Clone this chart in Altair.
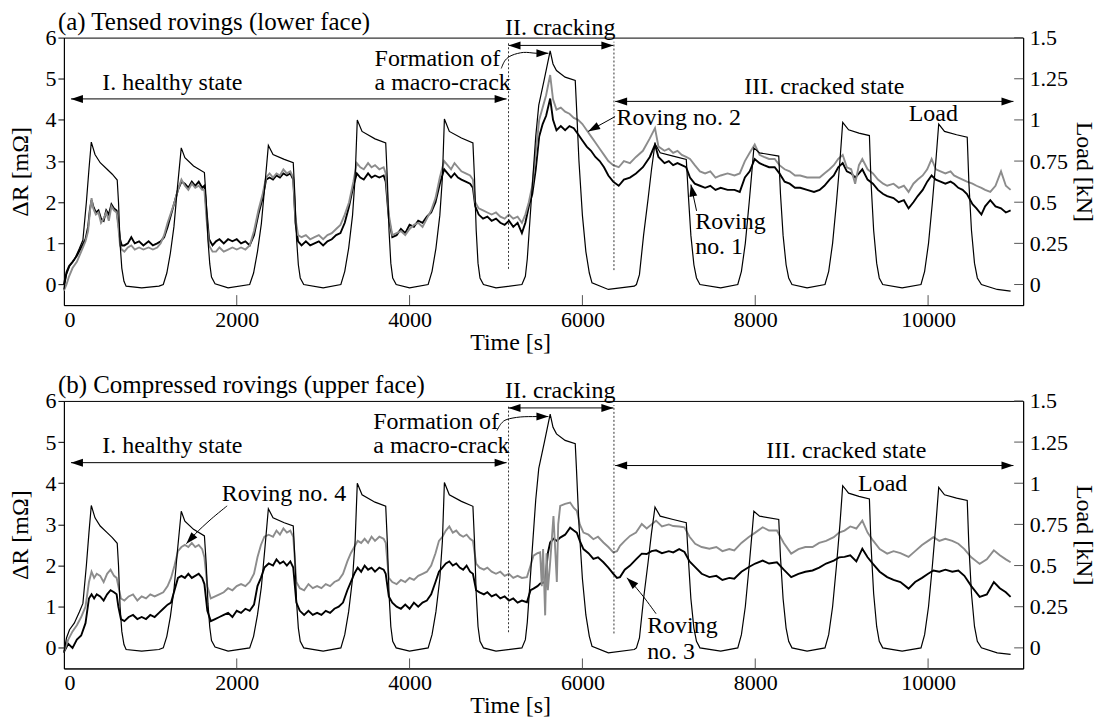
import altair as alt
import pandas as pd

FONT = "Liberation Serif"
GRAY = "#8c8c8c"

# ---------------- data ----------------
# applied load [kN] (same loading history in both panels)
LOAD = [
    (0, -0.03), (30, 0.06), (65, 0.11), (120, 0.15), (180, 0.22), (220, 0.27), (260, 0.5), (290, 0.7),
    (317, 0.865), (360, 0.79), (420, 0.74), (500, 0.70), (560, 0.67), (617, 0.635), (632, 0.5),
    (650, 0.25), (670, 0.1), (695, 0.02), (720, -0.01), (900, -0.02), (1100, -0.01), (1150, 0.0),
    (1191, 0.07), (1232, 0.19), (1273, 0.35), (1314, 0.59), (1358, 0.83), (1400, 0.77), (1500, 0.72),
    (1626, 0.68), (1647, 0.51), (1667, 0.27), (1688, 0.125), (1708, 0.045), (1749, 0.005),
    (1900, -0.02), (2150, 0.0), (2195, 0.07), (2240, 0.2), (2285, 0.37), (2325, 0.6), (2366, 0.845),
    (2420, 0.79), (2550, 0.76), (2654, 0.74), (2672, 0.55), (2692, 0.28), (2713, 0.12), (2735, 0.04),
    (2775, 0.0), (3000, -0.02), (3205, 0.0), (3250, 0.08), (3295, 0.22), (3340, 0.42), (3370, 0.65),
    (3395, 1.0), (3450, 0.93), (3600, 0.885), (3724, 0.86), (3742, 0.65), (3762, 0.33), (3783, 0.13),
    (3805, 0.04), (3845, 0.0), (4000, -0.02), (4215, 0.0), (4260, 0.08), (4305, 0.22), (4350, 0.42),
    (4380, 0.65), (4403, 1.005), (4460, 0.93), (4600, 0.89), (4733, 0.86), (4751, 0.65), (4771, 0.33),
    (4792, 0.13), (4815, 0.04), (4855, 0.0), (5000, -0.02), (5300, 0.0), (5340, 0.05), (5362, 0.155),
    (5420, 0.6), (5460, 0.9), (5495, 1.09), (5560, 1.25), (5627, 1.42), (5660, 1.34), (5700, 1.3),
    (5800, 1.26), (5917, 1.24), (5930, 1.1), (5960, 0.75), (6000, 0.42), (6040, 0.2), (6080, 0.07),
    (6111, 0.01), (6300, -0.03), (6600, -0.01), (6625, 0.0), (6660, 0.06), (6708, 0.3), (6760, 0.52),
    (6800, 0.7), (6840, 0.855), (6900, 0.8), (7050, 0.78), (7202, 0.76), (7225, 0.55), (7255, 0.3),
    (7290, 0.12), (7320, 0.04), (7360, 0.0), (7600, -0.02), (7798, 0.0), (7840, 0.08), (7885, 0.25),
    (7930, 0.5), (7960, 0.68), (7984, 0.83), (8050, 0.8), (8272, 0.78), (8292, 0.55), (8322, 0.3),
    (8357, 0.12), (8387, 0.04), (8425, 0.0), (8600, -0.02), (8807, 0.0), (8850, 0.08), (8895, 0.25),
    (8940, 0.5), (8980, 0.75), (9012, 0.985), (9080, 0.94), (9200, 0.92), (9321, 0.905), (9340, 0.62),
    (9370, 0.33), (9405, 0.13), (9435, 0.04), (9475, 0.0), (9700, -0.02), (9918, 0.0), (9960, 0.08),
    (10005, 0.25), (10050, 0.5), (10090, 0.75), (10123, 0.975), (10190, 0.93), (10330, 0.91),
    (10453, 0.895), (10472, 0.62), (10502, 0.33), (10537, 0.13), (10570, 0.04), (10617, 0.0),
    (10800, -0.03), (10955, -0.04),
]

# (a) tensed rovings, Delta R [mOhm]
ROVING_1 = [
    (0, 0.0), (30, 0.3), (60, 0.45), (100, 0.55), (150, 0.7), (200, 0.9), (250, 1.1), (280, 1.4),
    (300, 1.8), (320, 2.05), (340, 1.9), (370, 1.75), (400, 1.8), (430, 1.6), (460, 1.55), (490, 1.8),
    (520, 1.7), (550, 1.95), (580, 1.85), (610, 1.8), (630, 1.5), (650, 1.1), (670, 0.95), (700, 0.95),
    (740, 1.0), (780, 1.15), (820, 1.0), (870, 1.05), (920, 0.95), (980, 1.05), (1030, 0.95),
    (1080, 1.0), (1120, 1.05), (1160, 1.15), (1200, 1.4), (1240, 1.7), (1280, 2.0), (1320, 2.3),
    (1360, 2.5), (1400, 2.45), (1440, 2.35), (1480, 2.5), (1520, 2.4), (1560, 2.5), (1600, 2.35),
    (1626, 2.4), (1650, 1.8), (1680, 1.1), (1720, 0.95), (1760, 1.05), (1800, 1.1), (1850, 1.0),
    (1900, 1.1), (1950, 1.05), (2000, 1.1), (2050, 1.0), (2100, 1.05), (2150, 0.95), (2200, 1.2),
    (2250, 1.7), (2300, 2.1), (2340, 2.55), (2380, 2.6), (2420, 2.55), (2460, 2.65), (2500, 2.6),
    (2540, 2.7), (2580, 2.65), (2620, 2.7), (2654, 2.55), (2680, 1.5), (2710, 1.05), (2750, 0.95),
    (2800, 1.05), (2850, 0.95), (2900, 1.0), (2950, 1.05), (3000, 0.95), (3050, 1.05), (3100, 1.1),
    (3150, 1.2), (3200, 1.25), (3250, 1.5), (3300, 1.9), (3350, 2.4), (3390, 2.7), (3430, 2.6),
    (3470, 2.55), (3520, 2.7), (3560, 2.6), (3600, 2.65), (3650, 2.6), (3700, 2.65), (3724, 2.5),
    (3760, 1.6), (3800, 1.15), (3850, 1.2), (3900, 1.35), (3950, 1.25), (4000, 1.45), (4050, 1.4),
    (4100, 1.55), (4150, 1.5), (4200, 1.65), (4250, 1.75), (4300, 2.0), (4350, 2.45), (4400, 2.8),
    (4440, 2.7), (4480, 2.6), (4520, 2.7), (4560, 2.6), (4600, 2.55), (4650, 2.5), (4700, 2.45),
    (4733, 2.35), (4760, 1.9), (4800, 1.7), (4850, 1.6), (4900, 1.65), (4950, 1.55), (5000, 1.6),
    (5050, 1.5), (5100, 1.45), (5150, 1.55), (5200, 1.4), (5250, 1.5), (5300, 1.25), (5340, 1.5),
    (5380, 1.9), (5420, 2.2), (5460, 2.8), (5500, 3.6), (5540, 3.9), (5580, 4.1), (5627, 4.52),
    (5660, 4.0), (5700, 3.75), (5750, 3.85), (5800, 3.75), (5850, 3.85), (5900, 3.8), (5950, 3.65),
    (6000, 3.5), (6050, 3.35), (6100, 3.25), (6150, 3.1), (6200, 3.0), (6250, 2.85), (6300, 2.65),
    (6356, 2.5), (6420, 2.4), (6480, 2.55), (6550, 2.6), (6620, 2.7), (6700, 2.85), (6780, 3.1),
    (6840, 3.4), (6880, 3.1), (6950, 2.95), (7000, 3.0), (7050, 2.9), (7100, 2.95), (7150, 2.9),
    (7200, 2.85), (7245, 2.6), (7300, 2.45), (7360, 2.4), (7420, 2.35), (7480, 2.4), (7540, 2.3),
    (7600, 2.35), (7680, 2.3), (7760, 2.3), (7821, 2.25), (7880, 2.6), (7936, 2.75), (7994, 3.05),
    (8050, 2.95), (8100, 2.9), (8160, 2.85), (8225, 2.85), (8280, 2.7), (8340, 2.5), (8398, 2.45),
    (8460, 2.35), (8520, 2.35), (8600, 2.3), (8680, 2.25), (8745, 2.3), (8800, 2.4), (8860, 2.55),
    (8909, 2.65), (8960, 2.85), (9012, 2.95), (9060, 2.75), (9110, 2.7), (9156, 2.6), (9200, 2.7),
    (9239, 2.8), (9300, 2.55), (9362, 2.45), (9420, 2.3), (9480, 2.2), (9527, 2.15), (9600, 2.1),
    (9660, 2.0), (9720, 2.05), (9774, 1.85), (9830, 2.0), (9880, 2.15), (9938, 2.3), (9990, 2.5),
    (10041, 2.65), (10090, 2.55), (10144, 2.5), (10200, 2.45), (10260, 2.5), (10300, 2.45),
    (10350, 2.35), (10400, 2.3), (10450, 2.2), (10514, 1.95), (10560, 1.85), (10617, 1.7),
    (10660, 1.9), (10720, 2.05), (10780, 1.9), (10844, 1.85), (10900, 1.75), (10955, 1.8),
]
ROVING_2 = [
    (0, -0.15), (30, 0.0), (60, 0.2), (100, 0.4), (150, 0.55), (200, 0.8), (250, 1.05), (280, 1.3),
    (300, 1.75), (320, 2.1), (340, 1.85), (370, 1.7), (400, 1.75), (430, 1.5), (460, 1.6), (490, 1.75),
    (520, 1.55), (550, 1.9), (580, 1.8), (610, 1.75), (630, 1.4), (650, 0.95), (670, 0.85), (700, 0.8),
    (740, 0.9), (780, 0.95), (820, 0.85), (870, 0.9), (920, 0.85), (980, 0.9), (1030, 0.85),
    (1080, 0.9), (1120, 1.0), (1160, 1.2), (1200, 1.5), (1240, 1.75), (1280, 2.0), (1320, 2.3),
    (1360, 2.55), (1400, 2.4), (1440, 2.3), (1480, 2.45), (1520, 2.35), (1560, 2.4), (1600, 2.3),
    (1626, 2.3), (1650, 1.6), (1680, 0.95), (1720, 0.8), (1760, 0.8), (1800, 0.9), (1850, 0.8),
    (1900, 0.85), (1950, 0.9), (2000, 0.85), (2050, 0.9), (2100, 0.85), (2150, 0.95), (2200, 1.3),
    (2250, 1.8), (2300, 2.2), (2340, 2.6), (2380, 2.7), (2420, 2.6), (2460, 2.7), (2500, 2.65),
    (2540, 2.8), (2580, 2.7), (2620, 2.75), (2654, 2.6), (2680, 1.6), (2710, 1.2), (2750, 1.15),
    (2800, 1.2), (2850, 1.1), (2900, 1.15), (2950, 1.2), (3000, 1.1), (3050, 1.2), (3100, 1.25),
    (3150, 1.35), (3200, 1.45), (3250, 1.7), (3300, 2.0), (3350, 2.5), (3390, 2.95), (3430, 2.85),
    (3470, 2.8), (3520, 2.95), (3560, 2.85), (3600, 2.9), (3650, 2.8), (3700, 2.85), (3724, 2.7),
    (3760, 1.7), (3800, 1.2), (3850, 1.25), (3900, 1.3), (3950, 1.2), (4000, 1.35), (4050, 1.45),
    (4100, 1.5), (4150, 1.4), (4200, 1.6), (4250, 1.8), (4300, 2.1), (4350, 2.6), (4400, 3.0),
    (4440, 2.9), (4480, 2.8), (4520, 2.95), (4560, 2.85), (4600, 2.75), (4650, 2.7), (4700, 2.65),
    (4733, 2.55), (4760, 2.0), (4800, 1.85), (4850, 1.8), (4900, 1.75), (4950, 1.7), (5000, 1.75),
    (5050, 1.65), (5100, 1.6), (5150, 1.7), (5200, 1.6), (5250, 1.65), (5300, 1.5), (5340, 1.7),
    (5380, 2.0), (5420, 2.4), (5460, 3.2), (5500, 4.0), (5540, 4.3), (5580, 4.6), (5627, 5.09),
    (5660, 4.5), (5700, 4.25), (5750, 4.3), (5800, 4.2), (5850, 4.15), (5900, 4.05), (5950, 4.0),
    (6000, 3.9), (6050, 3.75), (6100, 3.6), (6150, 3.45), (6200, 3.3), (6250, 3.15), (6300, 3.0),
    (6356, 2.9), (6420, 2.85), (6480, 3.0), (6550, 2.95), (6620, 3.1), (6700, 3.25), (6780, 3.55),
    (6840, 3.8), (6880, 3.35), (6950, 3.25), (7000, 3.3), (7050, 3.2), (7100, 3.25), (7150, 3.15),
    (7200, 3.1), (7245, 3.05), (7300, 2.9), (7360, 2.75), (7420, 2.7), (7480, 2.75), (7540, 2.6),
    (7600, 2.65), (7680, 2.7), (7760, 2.65), (7821, 2.7), (7880, 3.0), (7936, 3.2), (7994, 3.4),
    (8050, 3.15), (8100, 3.1), (8160, 3.05), (8225, 3.05), (8280, 2.9), (8340, 2.8), (8398, 2.75),
    (8460, 2.65), (8520, 2.65), (8600, 2.6), (8680, 2.6), (8745, 2.6), (8800, 2.7), (8860, 2.8),
    (8909, 2.9), (8960, 3.05), (9012, 3.15), (9060, 2.85), (9110, 2.8), (9156, 2.45), (9200, 2.9),
    (9239, 3.05), (9300, 2.8), (9362, 2.7), (9420, 2.55), (9480, 2.45), (9527, 2.4), (9600, 2.45),
    (9660, 2.35), (9720, 2.4), (9774, 2.25), (9830, 2.45), (9880, 2.55), (9938, 2.65), (9990, 2.8),
    (10041, 3.05), (10090, 2.8), (10144, 2.75), (10200, 2.7), (10260, 2.75), (10300, 2.65),
    (10350, 2.6), (10400, 2.55), (10450, 2.5), (10514, 2.45), (10560, 2.4), (10617, 2.35),
    (10660, 2.3), (10720, 2.25), (10780, 2.4), (10844, 2.75), (10900, 2.4), (10955, 2.3),
]

# (b) compressed rovings, Delta R [mOhm]
ROVING_3 = [
    (0, -0.1), (50, 0.1), (100, 0.0), (150, 0.2), (200, 0.3), (250, 0.6), (290, 1.2), (320, 1.3),
    (350, 1.2), (380, 1.3), (420, 1.25), (460, 1.15), (500, 1.3), (540, 1.4), (580, 1.35), (610, 1.3),
    (630, 1.0), (660, 0.7), (700, 0.65), (750, 0.75), (800, 0.8), (850, 0.7), (900, 0.75), (950, 0.7),
    (1000, 0.8), (1050, 0.75), (1100, 0.85), (1150, 0.95), (1200, 1.05), (1240, 1.1), (1280, 1.4),
    (1320, 1.7), (1360, 1.75), (1400, 1.7), (1440, 1.8), (1480, 1.7), (1520, 1.75), (1560, 1.8),
    (1600, 1.7), (1626, 1.55), (1660, 0.9), (1700, 0.65), (1750, 0.7), (1800, 0.75), (1850, 0.8),
    (1900, 0.85), (1950, 0.75), (2000, 0.9), (2050, 0.85), (2100, 0.95), (2150, 0.9), (2200, 1.05),
    (2240, 1.5), (2280, 1.7), (2320, 1.95), (2370, 2.05), (2420, 2.0), (2460, 2.15), (2500, 2.05),
    (2540, 2.1), (2580, 2.0), (2620, 2.1), (2654, 1.95), (2690, 1.1), (2730, 0.9), (2780, 0.8),
    (2830, 0.9), (2880, 0.8), (2930, 0.85), (2980, 0.8), (3030, 0.9), (3080, 0.85), (3130, 0.95),
    (3180, 1.0), (3230, 1.1), (3280, 1.4), (3320, 1.6), (3360, 1.8), (3400, 1.95), (3440, 1.85),
    (3480, 2.0), (3520, 1.9), (3560, 1.95), (3600, 1.85), (3650, 1.95), (3700, 1.9), (3724, 1.8),
    (3760, 1.25), (3800, 1.1), (3850, 1.0), (3900, 0.95), (3950, 1.05), (4000, 0.95), (4050, 1.1),
    (4100, 1.0), (4150, 1.1), (4200, 1.15), (4250, 1.3), (4300, 1.6), (4340, 1.85), (4380, 1.95),
    (4420, 2.05), (4460, 2.1), (4500, 2.0), (4540, 2.05), (4580, 1.95), (4620, 1.9), (4660, 2.0),
    (4700, 1.85), (4733, 1.8), (4770, 1.4), (4810, 1.35), (4860, 1.3), (4900, 1.35), (4950, 1.25),
    (5000, 1.3), (5050, 1.2), (5100, 1.25), (5150, 1.15), (5200, 1.2), (5250, 1.1), (5300, 1.15),
    (5358, 1.11), (5400, 1.4), (5434, 1.44), (5480, 1.5), (5511, 1.56), (5569, 1.6), (5600, 2.3),
    (5627, 2.56), (5665, 2.65), (5704, 2.6), (5743, 2.68), (5800, 2.75), (5858, 2.92), (5900, 2.85),
    (5935, 2.8), (5970, 2.6), (6012, 2.4), (6070, 2.3), (6127, 2.16), (6180, 2.2), (6243, 2.08),
    (6300, 1.95), (6358, 1.8), (6400, 1.7), (6435, 1.72), (6490, 1.9), (6551, 2.0), (6620, 2.15),
    (6687, 2.29), (6744, 2.28), (6800, 2.35), (6852, 2.37), (6920, 2.3), (7000, 2.35), (7051, 2.32),
    (7120, 2.4), (7181, 2.33), (7240, 2.1), (7305, 1.96), (7380, 1.8), (7469, 1.72), (7550, 1.75),
    (7620, 1.65), (7700, 1.7), (7757, 1.68), (7840, 1.85), (7922, 1.96), (8000, 2.05), (8086, 2.12),
    (8160, 2.05), (8251, 2.08), (8330, 1.9), (8416, 1.72), (8500, 1.8), (8580, 1.85), (8663, 1.88),
    (8740, 1.95), (8820, 2.05), (8909, 2.12), (8970, 2.2), (9033, 2.21), (9100, 2.25), (9170, 2.1),
    (9239, 2.41), (9300, 2.2), (9362, 2.04), (9440, 1.85), (9527, 1.72), (9600, 1.65), (9680, 1.6),
    (9774, 1.44), (9850, 1.6), (9930, 1.7), (10000, 1.8), (10062, 1.88), (10130, 1.85), (10200, 1.9),
    (10280, 1.85), (10350, 1.88), (10420, 1.75), (10500, 1.5), (10597, 1.24), (10680, 1.3),
    (10761, 1.6), (10830, 1.45), (10900, 1.35), (10955, 1.24),
]
ROVING_4 = [
    (0, -0.1), (50, 0.2), (100, 0.4), (150, 0.55), (200, 0.75), (250, 1.0), (290, 1.6), (320, 1.85),
    (350, 1.7), (380, 1.8), (420, 1.75), (460, 1.6), (500, 1.8), (540, 1.9), (580, 1.75), (610, 1.7),
    (630, 1.5), (660, 1.2), (700, 1.15), (750, 1.25), (800, 1.3), (850, 1.15), (900, 1.25), (950, 1.2),
    (1000, 1.3), (1050, 1.25), (1100, 1.3), (1150, 1.35), (1200, 1.5), (1240, 1.7), (1280, 2.0),
    (1320, 2.35), (1360, 2.45), (1400, 2.5), (1440, 2.45), (1480, 2.55), (1520, 2.45), (1560, 2.5),
    (1600, 2.4), (1626, 2.2), (1660, 1.5), (1700, 1.2), (1750, 1.25), (1800, 1.3), (1850, 1.35),
    (1900, 1.45), (1950, 1.4), (2000, 1.5), (2050, 1.55), (2100, 1.5), (2150, 1.6), (2200, 1.8),
    (2240, 2.2), (2280, 2.5), (2320, 2.7), (2370, 2.75), (2420, 2.7), (2460, 2.85), (2500, 2.75),
    (2540, 2.9), (2580, 2.8), (2620, 2.85), (2654, 2.7), (2690, 1.6), (2730, 1.45), (2780, 1.4),
    (2830, 1.55), (2880, 1.45), (2930, 1.5), (2980, 1.45), (3030, 1.55), (3080, 1.5), (3130, 1.6),
    (3180, 1.65), (3230, 1.8), (3280, 2.1), (3320, 2.3), (3360, 2.45), (3400, 2.6), (3440, 2.55),
    (3480, 2.65), (3520, 2.55), (3560, 2.7), (3600, 2.6), (3650, 2.7), (3700, 2.65), (3724, 2.55),
    (3760, 1.7), (3800, 1.6), (3850, 1.55), (3900, 1.65), (3950, 1.6), (4000, 1.7), (4050, 1.65),
    (4100, 1.75), (4150, 1.8), (4200, 1.85), (4250, 2.0), (4300, 2.3), (4340, 2.6), (4380, 2.7),
    (4420, 2.85), (4460, 2.95), (4500, 2.8), (4540, 2.85), (4580, 2.75), (4620, 2.7), (4660, 2.75),
    (4700, 2.65), (4733, 2.6), (4770, 2.05), (4810, 1.95), (4860, 1.9), (4900, 1.95), (4950, 1.85),
    (5000, 1.8), (5050, 1.85), (5100, 1.75), (5150, 1.8), (5200, 1.7), (5250, 1.75), (5300, 1.7),
    (5358, 1.72), (5400, 2.0), (5434, 2.24), (5480, 2.3), (5511, 2.32), (5530, 1.5), (5545, 2.4),
    (5569, 0.79), (5585, 2.3), (5600, 1.4), (5627, 2.08), (5665, 3.2), (5685, 2.4), (5704, 1.6),
    (5720, 3.0), (5743, 3.45), (5800, 3.5), (5858, 3.53), (5900, 3.4), (5935, 3.33), (5970, 3.0),
    (6012, 2.8), (6070, 2.75), (6127, 2.64), (6180, 2.7), (6243, 2.56), (6300, 2.45), (6358, 2.32),
    (6400, 2.35), (6435, 2.48), (6490, 2.6), (6551, 2.72), (6620, 2.8), (6687, 3.01), (6744, 2.9),
    (6800, 3.0), (6852, 3.09), (6920, 2.95), (7000, 3.0), (7051, 2.96), (7120, 2.95), (7181, 2.93),
    (7240, 2.7), (7305, 2.53), (7380, 2.45), (7469, 2.41), (7550, 2.45), (7620, 2.35), (7700, 2.4),
    (7757, 2.37), (7840, 2.55), (7922, 2.69), (8000, 2.8), (8086, 2.93), (8160, 2.85), (8251, 2.85),
    (8330, 2.55), (8416, 2.29), (8500, 2.4), (8580, 2.45), (8663, 2.45), (8740, 2.55), (8820, 2.6),
    (8909, 2.69), (8970, 2.8), (9033, 2.85), (9100, 2.95), (9170, 2.9), (9239, 3.09), (9300, 2.8),
    (9362, 2.61), (9440, 2.4), (9527, 2.29), (9600, 2.35), (9680, 2.3), (9774, 2.21), (9850, 2.35),
    (9930, 2.5), (10000, 2.6), (10062, 2.69), (10130, 2.6), (10200, 2.65), (10280, 2.6),
    (10350, 2.53), (10420, 2.4), (10500, 2.2), (10597, 2.04), (10680, 2.15), (10761, 2.37),
    (10830, 2.25), (10900, 2.15), (10955, 2.08),
]

# axis ticks
TIME_TICKS = [0, 2000, 4000, 6000, 8000, 10000]
DR_TICKS = [0, 1, 2, 3, 4, 5, 6]
LOAD_TICKS = [0, 0.25, 0.5, 0.75, 1, 1.25, 1.5]

# annotations: (text, t, dR) in data units
TEXT_CENTER_A = [("II. cracking", 5743, 6.06), ("I. healthy state", 1255, 4.73),
                 ("III. cracked state", 8800, 4.63), ("Load", 10060, 3.97)]
TEXT_LEFT_A = [("Formation of", 3595, 5.31), ("a macro-crack", 3595, 4.73),
               ("Roving no. 2", 6395, 3.87), ("Roving", 7305, 1.34), ("no. 1", 7305, 0.73)]
TEXT_CENTER_B = [("II. cracking", 5743, 6.06), ("I. healthy state", 1255, 4.73),
                 ("III. cracked state", 9053, 4.61), ("Load", 9475, 3.8)]
TEXT_LEFT_B = [("Formation of", 3580, 5.31), ("a macro-crack", 3580, 4.73),
               ("Roving no. 4", 1827, 3.57), ("Roving", 6749, 0.35), ("no. 3", 6749, -0.26)]

# double arrows: (t start, t end, dR)
HARROWS_A = [(82, 5123, 4.51), (5145, 6358, 5.81), (6379, 10988, 4.45)]
HARROWS_B = [(82, 5123, 4.50), (5145, 6358, 5.83), (6379, 10988, 4.43)]
# dotted phase limits: (t, dR low, dR high)
VLINES = [(5145, 0.38, 5.9), (6365, 0.35, 5.9)]
# pointer arrows: name -> list of (t, dR); the last point is the tip
POINTERS_A = {
    "formation": [(5061, 5.25), (5107, 5.45), (5185, 5.57), (5319, 5.64), (5465, 5.62), (5607, 5.62)],
    "r2": [(6378, 4.08), (6066, 3.72)],
    "r1": [(7321, 1.79), (7255, 2.43)],
}
POINTERS_B = {
    "formation": [(5011, 5.28), (5060, 5.45), (5127, 5.55), (5281, 5.61), (5465, 5.62), (5607, 5.62)],
    "r4": [(1889, 3.45), (1704, 3.13), (1520, 2.77), (1417, 2.53)],
    "r3": [(6852, 0.83), (6708, 1.24), (6564, 1.6), (6514, 1.7)],
}
# arrow-head direction (degrees, clockwise, 0 = pointing right)
HEAD_ANGLE_A = {"formation": 0, "r2": 151, "r1": 258}
HEAD_ANGLE_B = {"formation": 0, "r4": 132, "r3": 224}

# ---------------- chart ----------------
W, H = 961, 268
X_SCALE = alt.Scale(domain=[0, 11100], nice=False, zero=False)
Y_SCALE = alt.Scale(domain=[-0.5, 6], nice=False, zero=False)
L_SCALE = alt.Scale(domain=[-0.125, 1.5], nice=False, zero=False)
HEAD_PATH = "M0,0L-2.4,-0.8L-2.4,0.8Z"
AXIS_STYLE = dict(grid=False, domainColor="black", labelColor="black", titleColor="black",
                  labelFont=FONT, titleFont=FONT, labelFontSize=22, titleFontSize=24,
                  titleFontWeight="normal", labelFontWeight="normal")


def x_axis():
    return alt.Axis(values=TIME_TICKS, format="d", ticks=False, labelPadding=4, title="Time [s]",
                    titleX=447, titlePadding=0, **AXIS_STYLE)


def y_axis():
    return alt.Axis(values=DR_TICKS, format="d", tickSize=6, tickColor="black", labelPadding=2,
                    title="ΔR [mΩ]", titlePadding=12, **AXIS_STYLE)


def l_axis():
    return alt.Axis(orient="right", values=LOAD_TICKS, format=".3~g", ticks=False, labelPadding=6,
                    title="Load [kN]", titleAngle=90, titlePadding=4, **AXIS_STYLE)


def xq(field):
    return alt.X(f"{field}:Q", scale=X_SCALE, axis=x_axis())


def yq(field):
    return alt.Y(f"{field}:Q", scale=Y_SCALE, axis=y_axis())


def pairs_df(pairs):
    return pd.DataFrame({"t": [p[0] for p in pairs], "v": [p[1] for p in pairs]})


def panel(title, black, gray, tc, tl, harrows, pointers, angles):
    black_line = alt.Chart(pairs_df(black)).mark_line(color="black", strokeWidth=1.9).encode(
        x=xq("t"), y=yq("v"))
    gray_line = alt.Chart(pairs_df(gray)).mark_line(color=GRAY, strokeWidth=1.9).encode(
        x=xq("t"), y=yq("v"))

    vl = pd.DataFrame(VLINES, columns=["t", "lo", "hi"])
    vlines = alt.Chart(vl).mark_rule(color="black", strokeWidth=0.8, strokeDash=[2, 2]).encode(
        x=xq("t"), y=yq("lo"), y2="hi:Q")

    ha = pd.DataFrame(harrows, columns=["t0", "t1", "v"])
    hrules = alt.Chart(ha).mark_rule(color="black", strokeWidth=1).encode(
        x=xq("t0"), x2="t1:Q", y=yq("v"))

    heads = []
    for t0, t1, v in harrows:
        heads.append({"t": t0, "v": v, "a": 180})
        heads.append({"t": t1, "v": v, "a": 0})
    prows = []
    for name, pts in pointers.items():
        for i, (t, v) in enumerate(pts):
            prows.append({"g": name, "i": i, "t": t, "v": v})
        heads.append({"t": pts[-1][0], "v": pts[-1][1], "a": angles[name]})
    pdf = pd.DataFrame(prows)
    plines = alt.Chart(pdf).mark_line(color="black", strokeWidth=1, interpolate="cardinal").encode(
        x=xq("t"), y=yq("v"), detail="g:N", order="i:Q")
    hd = pd.DataFrame(heads)
    head_marks = alt.Chart(hd).mark_point(shape=HEAD_PATH, filled=True, color="black", size=100,
                                          opacity=1, strokeWidth=0).encode(
        x=xq("t"), y=yq("v"), angle=alt.Angle("a:Q", scale=None))

    tcd = pd.DataFrame(tc, columns=["text", "t", "v"])
    tld = pd.DataFrame(tl, columns=["text", "t", "v"])
    txt_c = alt.Chart(tcd).mark_text(font=FONT, fontSize=24, align="center", baseline="alphabetic",
                                     color="black").encode(x=xq("t"), y=yq("v"), text="text:N")
    txt_l = alt.Chart(tld).mark_text(font=FONT, fontSize=24, align="left", baseline="alphabetic",
                                     color="black").encode(x=xq("t"), y=yq("v"), text="text:N")

    xt = pd.DataFrame({"t": TIME_TICKS[1:]})
    xticks = alt.Chart(xt).mark_rule(color="#555555", strokeWidth=1).encode(
        x=xq("t"), y=alt.value(H), y2=alt.value(H - 10))

    ttl = alt.Chart(pd.DataFrame({"text": [title]})).mark_text(
        font=FONT, fontSize=25, align="left", baseline="alphabetic", color="black").encode(
        x=alt.value(-6), y=alt.value(-8), text="text:N")

    left = alt.layer(black_line, gray_line, vlines, hrules, plines, head_marks, txt_c, txt_l,
                     xticks, ttl)

    ld = pairs_df(LOAD)
    load_line = alt.Chart(ld).mark_line(color="black", strokeWidth=1.2).encode(
        x=xq("t"), y=alt.Y("v:Q", scale=L_SCALE, axis=l_axis()))
    lt = pd.DataFrame({"k": LOAD_TICKS})
    lticks = alt.Chart(lt).mark_rule(color="#555555", strokeWidth=1).encode(
        y=alt.Y("k:Q", scale=L_SCALE, axis=l_axis()), x=alt.value(W - 9), x2=alt.value(W))
    right = alt.layer(load_line, lticks)

    return alt.layer(left, right).resolve_scale(y="independent").properties(width=W, height=H)


top = panel("(a) Tensed rovings (lower face)", ROVING_1, ROVING_2, TEXT_CENTER_A, TEXT_LEFT_A,
            HARROWS_A, POINTERS_A, HEAD_ANGLE_A)
bottom = panel("(b) Compressed rovings (upper face)", ROVING_3, ROVING_4, TEXT_CENTER_B,
               TEXT_LEFT_B, HARROWS_B, POINTERS_B, HEAD_ANGLE_B)

chart = alt.vconcat(top, bottom, spacing=17).properties(
    padding={"left": 0, "top": 0, "right": 5, "bottom": 0}
).configure_view(stroke="black", strokeWidth=1)

chart.save("out.html", embed_options={"renderer": "svg", "actions": False})
